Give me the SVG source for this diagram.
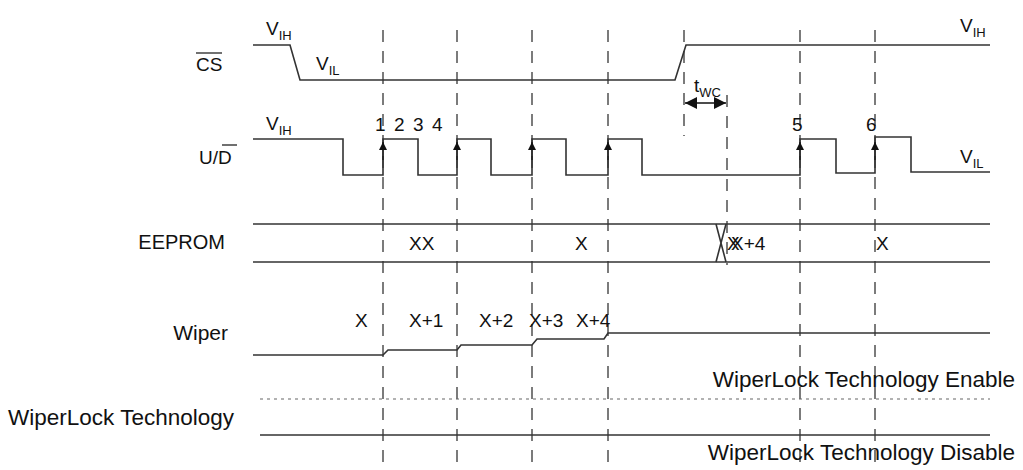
<svg xmlns="http://www.w3.org/2000/svg" width="1023" height="470" viewBox="0 0 1023 470">
<defs>
<marker id="ah" markerWidth="8" markerHeight="8" refX="8" refY="4" orient="auto-start-reverse" markerUnits="userSpaceOnUse"><path d="M0,0 L8,4 L0,8 z" fill="#111"/></marker>
<marker id="ah2" markerWidth="12" markerHeight="12" refX="12" refY="6" orient="auto-start-reverse" markerUnits="userSpaceOnUse"><path d="M0,0 L12,6 L0,12 z" fill="#111"/></marker>
</defs>
<style>
.s{fill:none;stroke:#333;stroke-width:1.6}
.d{fill:none;stroke:#444;stroke-width:1.4;stroke-dasharray:12,9}
.t{font-family:"Liberation Sans",Arial,sans-serif;font-size:19px;fill:#111}
.w{font-size:22.5px}
.l{font-size:20px}
.sub{font-size:13px}
</style>
<rect width="1023" height="470" fill="#fff"/>
<g class="d">
<line x1="383" y1="30" x2="383" y2="462"/>
<line x1="457" y1="30" x2="457" y2="462"/>
<line x1="532" y1="30" x2="532" y2="462"/>
<line x1="608" y1="30" x2="608" y2="462"/>
<line x1="684" y1="30" x2="684" y2="136"/>
<line x1="727" y1="95" x2="727" y2="265"/>
<line x1="800" y1="30" x2="800" y2="462"/>
<line x1="875" y1="30" x2="875" y2="462"/>
</g>
<g id="cs">
<path class="s" d="M253,45 H290 L300,80 H675 L686,45 H990"/>
<text class="t" x="196" y="71">CS</text><line x1="196" y1="53" x2="222" y2="53" stroke="#111" stroke-width="1.2"/>
<text class="t" x="266" y="35">V<tspan class="sub" dy="5">IH</tspan></text>
<text class="t" x="316" y="70">V<tspan class="sub" dy="5">IL</tspan></text>
<text class="t" x="960" y="32">V<tspan class="sub" dy="5">IH</tspan></text>
</g>
<g id="ud">
<path class="s" d="M253,139 H343 V175 H383 V139 H418 V175 H457 V139 H491 V175 H532 V139 H566 V175 H608 V139 H642 V175 H800 V139 H836 V173 H875 V137 H911 V172 H990"/>
<g stroke="#111" stroke-width="1">
<line x1="383" y1="160" x2="383" y2="142" marker-end="url(#ah)"/>
<line x1="457" y1="160" x2="457" y2="142" marker-end="url(#ah)"/>
<line x1="532" y1="160" x2="532" y2="142" marker-end="url(#ah)"/>
<line x1="608" y1="160" x2="608" y2="142" marker-end="url(#ah)"/>
<line x1="800" y1="160" x2="800" y2="142" marker-end="url(#ah)"/>
<line x1="875" y1="160" x2="875" y2="142" marker-end="url(#ah)"/>
</g>
<text class="t" x="199" y="164">U/D</text><line x1="222" y1="145" x2="237" y2="145" stroke="#111" stroke-width="1.2"/>
<text class="t" x="266" y="130">V<tspan class="sub" dy="5">IH</tspan></text>
<text class="t" x="375" y="131">1</text><text class="t" x="394" y="131">2</text><text class="t" x="413" y="131">3</text><text class="t" x="432" y="131">4</text>
<text class="t" x="792" y="131">5</text><text class="t" x="866" y="131">6</text>
<text class="t" x="960" y="163">V<tspan class="sub" dy="5">IL</tspan></text>
</g>
<g id="twc">
<line x1="685" y1="103" x2="726" y2="103" stroke="#111" stroke-width="1.6" marker-start="url(#ah2)" marker-end="url(#ah2)"/>
<text class="t" x="694" y="92">t<tspan class="sub" dy="5">WC</tspan></text>
</g>
<g id="eeprom">
<line class="s" x1="253" y1="224" x2="990" y2="224"/>
<line class="s" x1="253" y1="262" x2="990" y2="262"/>
<path class="s" d="M716,224 L726,262 M726,224 L716,262" stroke-width="1.2"/>
<text class="t l" x="225" y="249" text-anchor="end">EEPROM</text>
<text class="t" x="409" y="250">XX</text>
<text class="t" x="575" y="250">X</text>
<text class="t" x="727" y="250">X</text><text class="t" x="731" y="250">X+4</text>
<text class="t" x="876" y="250">X</text>
</g>
<g id="wiper">
<path class="s" d="M253,355 H383 L388,350 H457 L461,345 H532 L537,339 H604 L608,333 H990"/>
<text class="t" x="228" y="340" text-anchor="end" style="font-size:21px">Wiper</text>
<text class="t" x="355" y="327">X</text>
<text class="t" x="409" y="327">X+1</text>
<text class="t" x="479" y="327">X+2</text>
<text class="t" x="529" y="327">X+3</text>
<text class="t" x="576" y="327">X+4</text>
</g>
<g id="wiperlock">
<line x1="260" y1="399" x2="990" y2="399" stroke="#666" stroke-width="1.2" stroke-dasharray="3,4"/>
<line class="s" x1="260" y1="435" x2="990" y2="435"/>
<text class="t w" x="1015" y="387" text-anchor="end">WiperLock Technology Enable</text>
<text class="t w" x="8" y="425">WiperLock Technology</text>
<text class="t w" x="1015" y="460" text-anchor="end">WiperLock Technology Disable</text>
</g>
</svg>
